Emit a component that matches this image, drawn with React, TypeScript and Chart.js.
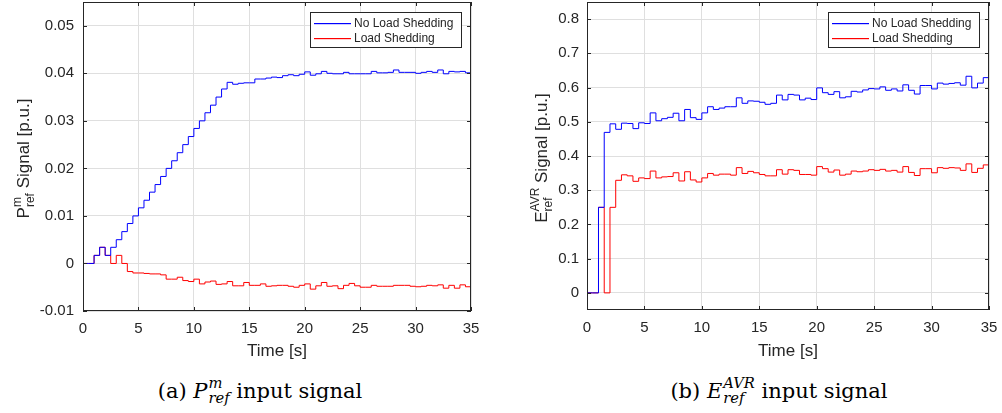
import React, { useEffect, useRef } from "react";
import { Chart, registerables } from "chart.js";

Chart.register(...registerables);

// ---------------- data ----------------
const STEP = 0.5; // sampling period [s]

// (a) P_ref^m, one value per 0.5 s step from t = 0 to t = 35
const pNoShed = [
  0, 0, 0.0017, 0.0034, 0.0017, 0.0034, 0.005, 0.0067, 0.0084, 0.01,
  0.0117, 0.0133, 0.015, 0.0166, 0.0183, 0.02, 0.0216, 0.0233, 0.025, 0.0267,
  0.0284, 0.03, 0.0317, 0.0333, 0.035, 0.0367, 0.0381, 0.0377, 0.0379, 0.038,
  0.038, 0.0388, 0.0388, 0.039, 0.0392, 0.0391, 0.0395, 0.0397, 0.0395, 0.0398,
  0.0403, 0.0396, 0.0399, 0.0404, 0.04, 0.0399, 0.0399, 0.0402, 0.0399, 0.0399,
  0.0399, 0.0399, 0.0404, 0.0401, 0.0401, 0.0402, 0.0407, 0.0402, 0.0402, 0.0402,
  0.04, 0.0402, 0.0404, 0.0402, 0.0407, 0.0399, 0.0404, 0.0403, 0.0404, 0.0401,
  0.0401,
];
const pShed = [
  0, 0, 0.0017, 0.0034, 0.0017, 0, 0.0017, 0, -0.0017, -0.002,
  -0.002, -0.0021, -0.0022, -0.0022, -0.0024, -0.0033, -0.0033, -0.0029, -0.0036, -0.0038,
  -0.0033, -0.0043, -0.0039, -0.0037, -0.0044, -0.0043, -0.0038, -0.0047, -0.0047, -0.004,
  -0.0046, -0.0046, -0.0043, -0.0048, -0.0047, -0.0046, -0.0046, -0.0048, -0.005, -0.0046,
  -0.0043, -0.0054, -0.0047, -0.004, -0.0048, -0.0047, -0.0053, -0.0046, -0.0042, -0.0047,
  -0.005, -0.005, -0.0046, -0.0048, -0.0048, -0.0048, -0.0046, -0.0046, -0.0046, -0.0048,
  -0.0049, -0.0048, -0.0046, -0.0047, -0.0045, -0.0052, -0.0046, -0.0052, -0.0045, -0.0049,
  -0.0049,
];

// (b) E_ref^AVR
const eNoShed = [
  0, 0, 0.25, 0.469, 0.494, 0.478, 0.496, 0.495, 0.48, 0.497,
  0.495, 0.526, 0.503, 0.509, 0.513, 0.525, 0.503, 0.536, 0.512, 0.507,
  0.526, 0.544, 0.536, 0.54, 0.544, 0.544, 0.57, 0.554, 0.561, 0.56,
  0.557, 0.551, 0.554, 0.578, 0.564, 0.58, 0.578, 0.564, 0.569, 0.565,
  0.599, 0.585, 0.58, 0.588, 0.57, 0.573, 0.589, 0.587, 0.593, 0.597,
  0.596, 0.602, 0.592, 0.596, 0.59, 0.608, 0.592, 0.581, 0.606, 0.606,
  0.596, 0.613, 0.61, 0.612, 0.614, 0.607, 0.633, 0.599, 0.613, 0.629,
  0.629,
];
const eShed = [
  0, 0, 0.25, 0, 0.25, 0.329, 0.345, 0.342, 0.326, 0.336,
  0.334, 0.356, 0.336, 0.339, 0.34, 0.351, 0.327, 0.354, 0.33, 0.324,
  0.336, 0.349, 0.344, 0.347, 0.347, 0.344, 0.366, 0.349, 0.355, 0.351,
  0.346, 0.342, 0.342, 0.36, 0.347, 0.36, 0.358, 0.346, 0.346, 0.344,
  0.369, 0.363, 0.353, 0.359, 0.344, 0.347, 0.356, 0.354, 0.356, 0.36,
  0.358, 0.361, 0.356, 0.358, 0.353, 0.369, 0.352, 0.343, 0.363, 0.363,
  0.351, 0.366, 0.364, 0.366, 0.365, 0.358, 0.377, 0.352, 0.364, 0.374,
  0.374,
];

const xTicks = [0, 5, 10, 15, 20, 25, 30, 35];
const pTicks = [-0.01, 0, 0.01, 0.02, 0.03, 0.04, 0.05];
const eTicks = [0, 0.1, 0.2, 0.3, 0.4, 0.5, 0.6, 0.7, 0.8];
const legendLabels = ["No Load Shedding", "Load Shedding"];
const xTitle = "Time [s]";

// ---------------- styling ----------------
const SANS = '"Liberation Sans", Arial, Helvetica, sans-serif';
const AXIS_COLOR = "#262626";
const GRID_COLOR = "#dfdfdf";
const BLUE = "#0000ff";
const RED = "#ff0000";
const SERIES_COLORS = [BLUE, RED];

type Panel = {
  left: number;
  width: number;
  height: number;
  area: { left: number; right: number; top: number; bottom: number };
  yMin: number;
  yMax: number;
  yTicks: number[];
  yPad: number;
  blue: number[];
  red: number[];
  yLabel: { main: string; sup: string; sub: string; rest: string };
  yLabelX: number;
};

const toPoints = (vals: number[]) => vals.map((v, i) => ({ x: i * STEP, y: v }));
const fmt = (v: number) => String(Math.round(v * 1e6) / 1e6);

function makeChart(canvas: HTMLCanvasElement, p: Panel) {
  const overlay = {
    id: "matlabOverlay",
    afterDraw(chart: any) {
      const ctx: CanvasRenderingContext2D = chart.ctx;
      const a = chart.chartArea;
      const xs = chart.scales.x;
      const ys = chart.scales.y;
      ctx.save();
      // tick marks (inward, all four sides)
      ctx.strokeStyle = AXIS_COLOR;
      ctx.lineWidth = 1;
      const T = 4;
      ctx.beginPath();
      for (const v of xTicks) {
        const px = Math.round(xs.getPixelForValue(v)) + 0.5;
        ctx.moveTo(px, a.bottom);
        ctx.lineTo(px, a.bottom - T);
        ctx.moveTo(px, a.top);
        ctx.lineTo(px, a.top + T);
      }
      for (const v of p.yTicks) {
        const py = Math.round(ys.getPixelForValue(v)) + 0.5;
        ctx.moveTo(a.left, py);
        ctx.lineTo(a.left + T, py);
        ctx.moveTo(a.right, py);
        ctx.lineTo(a.right - T, py);
      }
      ctx.stroke();
      // frame
      ctx.strokeRect(
        Math.round(a.left) + 0.5,
        Math.round(a.top) + 0.5,
        Math.round(a.right - a.left) - 1,
        Math.round(a.bottom - a.top) - 1
      );

      // x title
      ctx.fillStyle = AXIS_COLOR;
      ctx.font = `17px ${SANS}`;
      ctx.textAlign = "center";
      ctx.textBaseline = "alphabetic";
      ctx.fillText(xTitle, (a.left + a.right) / 2, 356);

      // y title with sup/sub
      const L = p.yLabel;
      ctx.save();
      ctx.translate(p.yLabelX, (a.top + a.bottom) / 2 + 2);
      ctx.rotate(-Math.PI / 2);
      ctx.textAlign = "left";
      ctx.font = `17px ${SANS}`;
      const wMain = ctx.measureText(L.main).width;
      const wRest = ctx.measureText(L.rest).width;
      ctx.font = `12px ${SANS}`;
      const wS = Math.max(ctx.measureText(L.sup).width, ctx.measureText(L.sub).width);
      let px = -(wMain + wS + wRest) / 2;
      ctx.font = `17px ${SANS}`;
      ctx.fillText(L.main, px, 0);
      px += wMain;
      ctx.font = `12px ${SANS}`;
      ctx.fillText(L.sup, px, -8);
      ctx.fillText(L.sub, px, 5);
      px += wS;
      ctx.font = `17px ${SANS}`;
      ctx.fillText(L.rest, px, 0);
      ctx.restore();

      // legend box
      const bw = 151;
      const bh = 35;
      const bx = Math.round(a.right - 10 - bw);
      const by = Math.round(a.top + 10);
      ctx.fillStyle = "#ffffff";
      ctx.fillRect(bx, by, bw, bh);
      ctx.strokeStyle = AXIS_COLOR;
      ctx.lineWidth = 1;
      ctx.strokeRect(bx + 0.5, by + 0.5, bw, bh);
      ctx.font = `12px ${SANS}`;
      ctx.textBaseline = "middle";
      ctx.textAlign = "left";
      legendLabels.forEach((lab, i) => {
        const ly = Math.round(by + 10.5 + i * 15.7);
        ctx.fillStyle = SERIES_COLORS[i];
        ctx.fillRect(bx + 4, ly, 37, 1.2);
        ctx.fillStyle = AXIS_COLOR;
        ctx.fillText(lab, bx + 44, ly + 1);
      });
      ctx.restore();
    },
  };

  return new Chart(canvas, {
    type: "line",
    data: {
      datasets: [
        {
          label: legendLabels[0],
          data: toPoints(p.blue),
          borderColor: BLUE,
          borderWidth: 1,
          pointRadius: 0,
          stepped: true,
          fill: false,
        },
        {
          label: legendLabels[1],
          data: toPoints(p.red),
          borderColor: RED,
          borderWidth: 1,
          pointRadius: 0,
          stepped: true,
          fill: false,
        },
      ],
    },
    options: {
      responsive: false,
      animation: false,
      events: [],
      layout: {
        autoPadding: false,
        padding: { left: 0, top: p.area.top, right: p.width - p.area.right, bottom: 0 },
      },
      plugins: { legend: { display: false }, tooltip: { enabled: false } },
      scales: {
        x: {
          type: "linear",
          min: 0,
          max: 35,
          bounds: "data",
          afterBuildTicks: (s: any) => {
            s.ticks = xTicks.map((v) => ({ value: v }));
            s.min = 0;
            s.max = 35;
          },
          afterFit: (s: any) => {
            s.height = p.height - p.area.bottom;
            s.paddingLeft = 0;
            s.paddingRight = 0;
            s.paddingTop = 0;
            s.paddingBottom = 0;
          },
          grid: { color: GRID_COLOR, lineWidth: 1, drawTicks: false },
          border: { display: false },
          ticks: {
            padding: 9,
            maxRotation: 0,
            autoSkip: false,
            color: AXIS_COLOR,
            font: { family: SANS, size: 15 },
            callback: (v: any) => fmt(Number(v)),
          },
        },
        y: {
          type: "linear",
          min: p.yMin,
          max: p.yMax,
          bounds: "data",
          afterBuildTicks: (s: any) => {
            s.ticks = p.yTicks.map((v) => ({ value: v }));
            s.min = p.yMin;
            s.max = p.yMax;
          },
          afterFit: (s: any) => {
            s.width = p.area.left;
            s.paddingLeft = 0;
            s.paddingRight = 0;
            s.paddingTop = 0;
            s.paddingBottom = 0;
          },
          grid: { color: GRID_COLOR, lineWidth: 1, drawTicks: false },
          border: { display: false },
          ticks: {
            padding: p.yPad,
            autoSkip: false,
            color: AXIS_COLOR,
            font: { family: SANS, size: 15 },
            callback: (v: any) => fmt(Number(v)),
          },
        },
      },
    },
    plugins: [overlay],
  } as any);
}

const panels: Panel[] = [
  {
    left: 0,
    width: 501,
    height: 360,
    area: { left: 83, right: 471, top: 2, bottom: 311 },
    yMin: -0.01,
    yMax: 0.055,
    yTicks: pTicks,
    yPad: 9,
    blue: pNoShed,
    red: pShed,
    yLabel: { main: "P", sup: "m", sub: "ref", rest: " Signal [p.u.]" },
    yLabelX: 29,
  },
  {
    left: 501,
    width: 501,
    height: 360,
    area: { left: 86, right: 488, top: 2, bottom: 310 },
    yMin: -0.05,
    yMax: 0.85,
    yTicks: eTicks,
    yPad: 8,
    blue: eNoShed,
    red: eShed,
    yLabel: { main: "E", sup: "AVR", sub: "ref", rest: " Signal [p.u.]" },
    yLabelX: 46,
  },
];

function PanelChart({ p }: { p: Panel }) {
  const ref = useRef<HTMLCanvasElement | null>(null);
  useEffect(() => {
    if (!ref.current) return;
    const c = makeChart(ref.current, p);
    return () => c.destroy();
  }, [p]);
  return (
    <canvas
      ref={ref}
      width={p.width}
      height={p.height}
      style={{ position: "absolute", left: p.left, top: 0, width: p.width, height: p.height }}
    />
  );
}

const SERIF = '"DejaVu Serif", "Liberation Serif", serif';

function Caption({ center, tag, main, sup, sub }: { center: number; tag: string; main: string; sup: string; sub: string }) {
  return (
    <div
      style={{
        position: "absolute",
        left: center - 170,
        width: 340,
        top: 376,
        textAlign: "center",
        fontFamily: SERIF,
        fontSize: 21,
        lineHeight: "26px",
        color: "#000",
        whiteSpace: "nowrap",
      }}
    >
      {tag}{" "}
      <i>{main}</i>
      <span
        style={{
          display: "inline-block",
          verticalAlign: "-0.32em",
          lineHeight: 1,
          fontSize: "0.7em",
          fontStyle: "italic",
          textAlign: "left",
          marginLeft: 1,
        }}
      >
        <span style={{ display: "block" }}>{sup}</span>
        <span style={{ display: "block" }}>{sub}</span>
      </span>{" "}
      input signal
    </div>
  );
}

export default function App() {
  return (
    <div style={{ position: "absolute", left: 0, top: 0, width: 1002, height: 413, background: "#fff", overflow: "hidden" }}>
      {panels.map((p, i) => (
        <PanelChart key={i} p={p} />
      ))}
      <Caption center={260} tag="(a)" main="P" sup="m" sub="ref" />
      <Caption center={779} tag="(b)" main="E" sup="AVR" sub="ref" />
    </div>
  );
}
